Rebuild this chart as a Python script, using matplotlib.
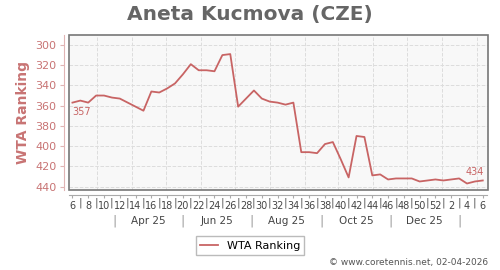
import datetime as dt
import matplotlib.pyplot as plt
from matplotlib.patches import Rectangle
from matplotlib.transforms import blended_transform_factory

weeks = list(range(53))
ranking = [357, 355, 357, 350, 350, 352, 353, 357, 361, 365,
           346, 347, 343, 338, 329, 319, 325, 325, 326, 310,
           309, 361, 353, 345, 353, 356, 357, 359, 357, 406,
           406, 407, 398, 396, 413, 431, 390, 391, 429, 428,
           433, 432, 432, 432, 435, 434, 433, 434, 433, 432,
           437, 435, 434]
week_labels = [str(w) for w in range(6, 53, 2)] + ["2", "4", "6"]
month_labels = ["Apr 25", "Jun 25", "Aug 25", "Oct 25", "Dec 25"]

start = dt.date(2025, 2, 7)


def wk(d):
    return (d - start).days / 7


month_starts = [wk(dt.date(2025 + (m > 12), (m - 1) % 12 + 1, 1)) for m in range(3, 15)]
month_edges = [wk(dt.date(2025 + (m > 12), (m - 1) % 12 + 1, 16)) for m in range(3, 15, 2)]

line_c = "#c86464"
text_c = "#c87474"
PX = 0.72  # points per pixel at 100 dpi

fig = plt.figure(figsize=(5, 2.7), dpi=100)
ax = fig.add_axes([0.137, 0.296, 0.838, 0.573])
ax.set_facecolor("#f8f8f8")

ax.plot(weeks, ranking, color=line_c, lw=1.3, label="WTA Ranking")
ax.set_xlim(-0.5, 52.6)
ax.set_ylim(443.5, 290.5)

ax.text(weeks[0], ranking[0] + 4, str(ranking[0]), color=line_c, fontsize=7,
        ha="left", va="top")
ax.text(weeks[-1] + 0.2, ranking[-1] - 3, str(ranking[-1]), color=line_c,
        fontsize=7, ha="right", va="bottom")

ax.set_yticks(range(300, 441, 20))
ax.set_xticks(weeks[::2])
ax.set_xticklabels(week_labels)
ax.set_xticks(weeks[1::2], minor=True)
ax.set_xticklabels(["|"] * len(weeks[1::2]), minor=True)
ax.grid(True, axis="y", color="#dddddd", ls="--", lw=0.7)
for m in month_starts:
    ax.axvline(m, color="#dddddd", ls="--", lw=0.7, zorder=0.5)

for s in ["top", "right"]:
    ax.spines[s].set_visible(False)
ax.spines["left"].set_position(("outward", 5 * PX))
ax.spines["bottom"].set_position(("outward", 5 * PX))
ax.spines["left"].set_color("#e0b4b4")
ax.spines["bottom"].set_color("#aaaaaa")
ax.add_patch(Rectangle((0, 0), 1, 1, transform=ax.transAxes, fill=False,
                       ec="#777777", lw=1.2, clip_on=False, zorder=5))

ax.tick_params(axis="y", colors="#e0b4b4", labelcolor=text_c, labelsize=8,
               length=3, pad=2)
ax.tick_params(axis="x", which="major", colors="#aaaaaa", labelcolor="#444444",
               labelsize=7, length=2, pad=2.5)
ax.tick_params(axis="x", which="minor", length=0, labelcolor="#555555",
               labelsize=8, pad=1.5)

ax.set_ylabel("WTA Ranking", color=text_c, fontsize=10, fontweight="bold",
              labelpad=4)

tr = blended_transform_factory(ax.transData, ax.transAxes)
for e in month_edges:
    ax.text(e, -0.2, "|", transform=tr, ha="center", va="center",
            fontsize=9, color="#999999")
for i, m in enumerate(month_labels):
    ax.text((month_edges[i] + month_edges[i + 1]) / 2, -0.2, m, transform=tr,
            ha="center", va="center", fontsize=7.5, color="#444444")

fig.suptitle("Aneta Kucmova (CZE)", x=0.5, y=0.98, fontsize=14.5,
             fontweight="bold", color="#666666")
fig.legend(loc="center", bbox_to_anchor=(0.5, 0.09), fontsize=8,
           frameon=True, fancybox=False, edgecolor="#aaaaaa", handlelength=1.6)
fig.text(0.976, 0.01, "© www.coretennis.net, 02-04-2026", ha="right",
         va="bottom", fontsize=6.5, color="#555555")

fig.savefig("out.png", dpi=100)
